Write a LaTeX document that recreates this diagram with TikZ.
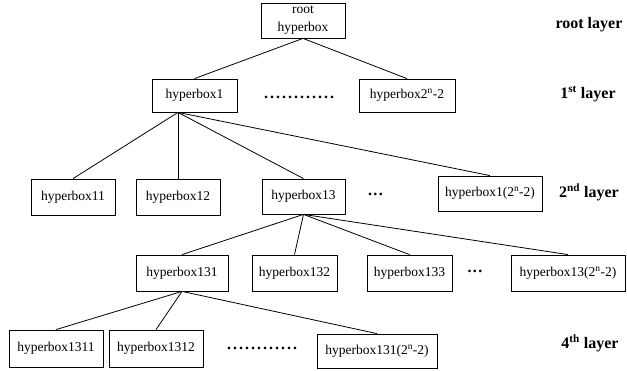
\documentclass[tikz,border=0pt]{standalone}
\usepackage{fontspec}
\setmainfont{Liberation Serif}
\begin{document}
\begin{tikzpicture}[x=1pt,y=-1pt,
  hb/.style={draw,line width=0.8pt,inner sep=0pt,minimum height=#1,
    font=\fontsize{13.5}{18}\selectfont,align=center},
  hb/.default=36,
  lay/.style={font=\fontsize{16}{18}\selectfont\bfseries,inner sep=0pt},
  dotsnode/.style={font=\fontsize{16}{18}\selectfont\bfseries,inner sep=0pt},
  link/.style={line width=0.8pt}]
\useasboundingbox (0,0) rectangle (627,370);
\def\dt{.\kern2pt}
\def\dd{.\kern1.5pt}
% root
\node[hb=35,minimum width=84] (root) at (303,20.5) {\raisebox{-2pt}{\parbox{80pt}{\centering root\\hyperbox}}};
% layer 1
\node[hb=33,minimum width=85] (hb1) at (194.5,95.5) {hyperbox1};
\node[hb=33,minimum width=96] (hb2) at (407,95.5) {hyperbox2\textsuperscript{n}-2};
\node[dotsnode] (d1) at (299,97) {\dt\dt\dt\dt\dt\dt\dt\dt\dt\dt\dt.};
% layer 2
\node[hb,minimum width=84] (hb11) at (73,197) {hyperbox11};
\node[hb,minimum width=84] (hb12) at (178,197) {hyperbox12};
\node[hb=35,minimum width=83] (hb13) at (303.5,196.5) {hyperbox13};
\node[dotsnode] (d2) at (375.5,194) {\dd\dd.};
\node[hb=35,minimum width=104] (hb1n) at (490,193.5) {hyperbox1(2\textsuperscript{n}-2)};
% layer 3
\node[hb,minimum width=92] (hb131) at (182,273) {hyperbox131};
\node[hb,minimum width=85] (hb132) at (294.5,273) {hyperbox132};
\node[hb,minimum width=85] (hb133) at (409.5,273) {hyperbox133};
\node[dotsnode] (d3) at (475,271) {\dd\dd.};
\node[hb,minimum width=114] (hb13n) at (568,273) {hyperbox13(2\textsuperscript{n}-2)};
% layer 4
\node[hb=37,minimum width=94] (hb1311) at (56,348.5) {hyperbox1311};
\node[hb=37,minimum width=94] (hb1312) at (156,348.5) {hyperbox1312};
\node[dotsnode] (d4) at (262,348) {\dt\dt\dt\dt\dt\dt\dt\dt\dt\dt\dt.};
\node[hb=34,minimum width=120] (hb131n) at (377,351) {hyperbox131(2\textsuperscript{n}-2)};
% layer labels
\node[lay] (l0) at (589,25) {root layer};
\node[lay] (l1) at (588,94) {1\textsuperscript{st} layer};
\node[lay] (l2) at (589,192) {2\textsuperscript{nd} layer};
\node[lay] (l4) at (590,343) {4\textsuperscript{th} layer};
% connectors
\coordinate (hb1b) at (hb1.south -| hb12.north);
\draw[link] (root.south) -- (hb1.north);
\draw[link] (root.south) -- (hb2.north);
\draw[link] (hb1b) -- (hb11.north);
\draw[link] (hb1b) -- (hb12.north);
\draw[link] (hb1b) -- (hb13.north);
\draw[link] (hb1b) -- (hb1n.north);
\draw[link] (hb13.south) -- (hb131.north);
\draw[link] (hb13.south) -- (hb132.north);
\draw[link] (hb13.south) -- (hb133.north);
\draw[link] (hb13.south) -- (hb13n.north);
\draw[link] (hb131.south) -- (hb1311.north);
\draw[link] (hb131.south) -- (hb1312.north);
\draw[link] (hb131.south) -- (hb131n.north);
\end{tikzpicture}
\end{document}
